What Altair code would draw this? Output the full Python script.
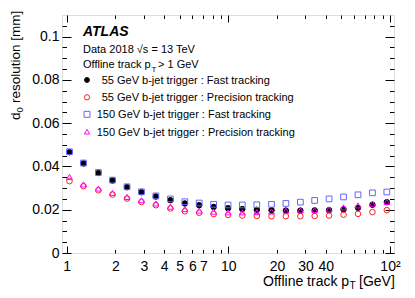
import altair as alt
import pandas as pd

FONT = "Liberation Sans"

# ---- data ----
pt = [1.04, 1.27, 1.57, 1.92, 2.36, 2.90, 3.56, 4.38, 5.38, 6.60, 8.11, 9.96,
      12.2, 15.0, 18.5, 22.7, 27.9, 34.2, 42.0, 51.6, 63.4, 77.9, 95.6]
fast55 = [0.0466, 0.0414, 0.0370, 0.0335, 0.0304, 0.0281, 0.0261, 0.0244, 0.0229,
          0.0221, 0.0213, 0.0207, 0.0203, 0.0200, 0.0198, 0.0196, 0.0196, 0.0197,
          0.0198, 0.0202, 0.0209, 0.0223, 0.0235]
prec55 = [0.0332, 0.0309, 0.0290, 0.0270, 0.0252, 0.0236, 0.0221, 0.0206, 0.0193,
          0.0186, 0.0180, 0.0176, 0.0173, 0.0171, 0.0170, 0.0170, 0.0170, 0.0171,
          0.0173, 0.0177, 0.0181, 0.0189, 0.0198]
fast150 = [0.0468, 0.0416, 0.0372, 0.0337, 0.0306, 0.0283, 0.0264, 0.0250, 0.0237,
           0.0231, 0.0225, 0.0222, 0.0222, 0.0223, 0.0225, 0.0229, 0.0235, 0.0243,
           0.0250, 0.0259, 0.0269, 0.0278, 0.0282]
prec150 = [0.0352, 0.0317, 0.0298, 0.0278, 0.0259, 0.0244, 0.0229, 0.0214, 0.0203,
           0.0196, 0.0191, 0.0188, 0.0188, 0.0189, 0.0192, 0.0196, 0.0197, 0.0199,
           0.0202, 0.0211, 0.0220, 0.0228, 0.0236]

names = ["55 GeV b-jet trigger : Fast tracking",
         "55 GeV b-jet trigger : Precision tracking",
         "150 GeV b-jet trigger : Fast tracking",
         "150 GeV b-jet trigger : Precision tracking"]
series_vals = [fast55, prec55, fast150, prec150]
strokes = ["#000000", "#ff2020", "#6464ff", "#ff00ff"]
fills = ["#000000", "transparent", "transparent", "transparent"]
shapes = ["circle", "circle", "square", "triangle-up"]
sizes = [30, 34, 44, 36]

x_label_vals = [1, 2, 3, 4, 5, 6, 7, 10, 20, 30, 40, 100]
x_major = [1, 10, 100]
x_minor = [2, 3, 4, 5, 6, 7, 8, 9, 20, 30, 40, 50, 60, 70, 80, 90]
y_major = [0, 0.02, 0.04, 0.06, 0.08, 0.1]
y_minor = [0.005, 0.01, 0.015, 0.025, 0.03, 0.035, 0.045, 0.05, 0.055, 0.065,
           0.07, 0.075, 0.085, 0.09, 0.095, 0.105]

rows = []
for n, vals in zip(names, series_vals):
    for xv, yv in zip(pt, vals):
        rows.append({"pt": xv, "res": yv, "series": n})
df = pd.DataFrame(rows)

W, H = 332, 238
xscale = alt.Scale(type="log", domain=[0.935, 105.9], nice=False)
yscale = alt.Scale(domain=[0, 0.11], nice=False, zero=False)

points = alt.Chart(df).mark_point(strokeWidth=1, opacity=1).encode(
    x=alt.X("pt:Q", scale=xscale,
            axis=alt.Axis(orient="bottom", values=x_label_vals, ticks=False, domain=False,
                          grid=False, title=None, labelFont=FONT, labelFontSize=14,
                          labelColor="black", labelPadding=6, labelFlush=False,
                          labelOverlap=False,
                          labelExpr="datum.value == 100 ? '10\u00b2' : format(datum.value, 'd')")),
    y=alt.Y("res:Q", scale=yscale,
            axis=alt.Axis(orient="left", values=y_major, ticks=False, domain=False,
                          grid=False, title=None, labelFont=FONT, labelFontSize=14,
                          labelColor="black", labelPadding=3, labelFlush=False,
                          labelOverlap=False,
                          labelExpr="datum.value == 0 ? '0' : format(datum.value, '.2~f')")),
    stroke=alt.Stroke("series:N", scale=alt.Scale(domain=names, range=strokes), legend=None),
    fill=alt.Fill("series:N", scale=alt.Scale(domain=names, range=fills), legend=None),
    shape=alt.Shape("series:N", scale=alt.Scale(domain=names, range=shapes), legend=None),
    size=alt.Size("series:N", scale=alt.Scale(domain=names, range=sizes), legend=None),
)


def tick_layer(xorient, yorient, xvals, yvals, xsize, ysize):
    common = dict(labels=False, domain=False, grid=False, title=None, ticks=True,
                  tickColor="black", tickWidth=1)
    return alt.Chart(df).mark_point(opacity=0).encode(
        x=alt.X("pt:Q", scale=xscale,
                axis=alt.Axis(orient=xorient, offset=-H, values=xvals, tickSize=xsize, **common)),
        y=alt.Y("res:Q", scale=yscale,
                axis=alt.Axis(orient=yorient, offset=-W, values=yvals, tickSize=ysize, **common)),
    )


t1 = tick_layer("top", "right", x_major, y_major, 7, 9)
t2 = tick_layer("top", "right", x_minor, y_minor, 3.5, 4.5)
t3 = tick_layer("bottom", "left", x_major, y_major, 7, 9)
t4 = tick_layer("bottom", "left", x_minor, y_minor, 3.5, 4.5)

one = alt.Data(values=[{"a": 1}])


def txt(text, x, y, size=11, angle=0, **kw):
    return alt.Chart(one).mark_text(text=text, align="left", baseline="alphabetic",
                                    font=FONT, fontSize=size, color="black",
                                    angle=angle, **kw).encode(
        x=alt.value(x), y=alt.value(y))


texts = [
    txt("ATLAS", 21, 21, 14, fontStyle="italic", fontWeight="bold"),
    txt("Data 2018 \u221as = 13 TeV", 21, 38, 11),
    txt("Offline track p", 21, 52.7, 11),
    txt("T", 89.5, 56.5, 8),
    txt("> 1 GeV", 96, 52.7, 11),
    # x title
    txt("Offline track p", 201, 270.5, 14),
    txt("T", 287.5, 274, 10),
    txt("[GeV]", 297, 270.5, 14),
    # y title (rotated)
    txt("d", -42, 105, 13.5, angle=270),
    txt("0", -39, 97.5, 9.5, angle=270),
    txt("resolution [mm]", -42, 88, 13.5, angle=270),
]

# manual legend (symbol + label per series)
leg_rows_y = [65, 82.3, 99.3, 116.7]
leg_label_x = [39.7, 39.7, 34.7, 34.7]
legend_layers = []
for i, n in enumerate(names):
    legend_layers.append(
        alt.Chart(one).mark_point(shape=shapes[i], stroke=strokes[i], fill=fills[i],
                                  strokeWidth=1, opacity=1, size=sizes[i] * 0.8).encode(
            x=alt.value(25), y=alt.value(leg_rows_y[i])))
    legend_layers.append(txt(n, leg_label_x[i], leg_rows_y[i] + 4, 11))

chart = alt.layer(points, t1, t2, t3, t4, *texts, *legend_layers).resolve_axis(
    x="independent", y="independent"
).properties(
    width=W, height=H, autosize="none",
    padding={"left": 54, "top": 7, "right": 13, "bottom": 37},
).configure_view(stroke="black", strokeWidth=1).configure(background="white")

chart.save("out.html", embed_options={"renderer": "svg", "actions": False})
